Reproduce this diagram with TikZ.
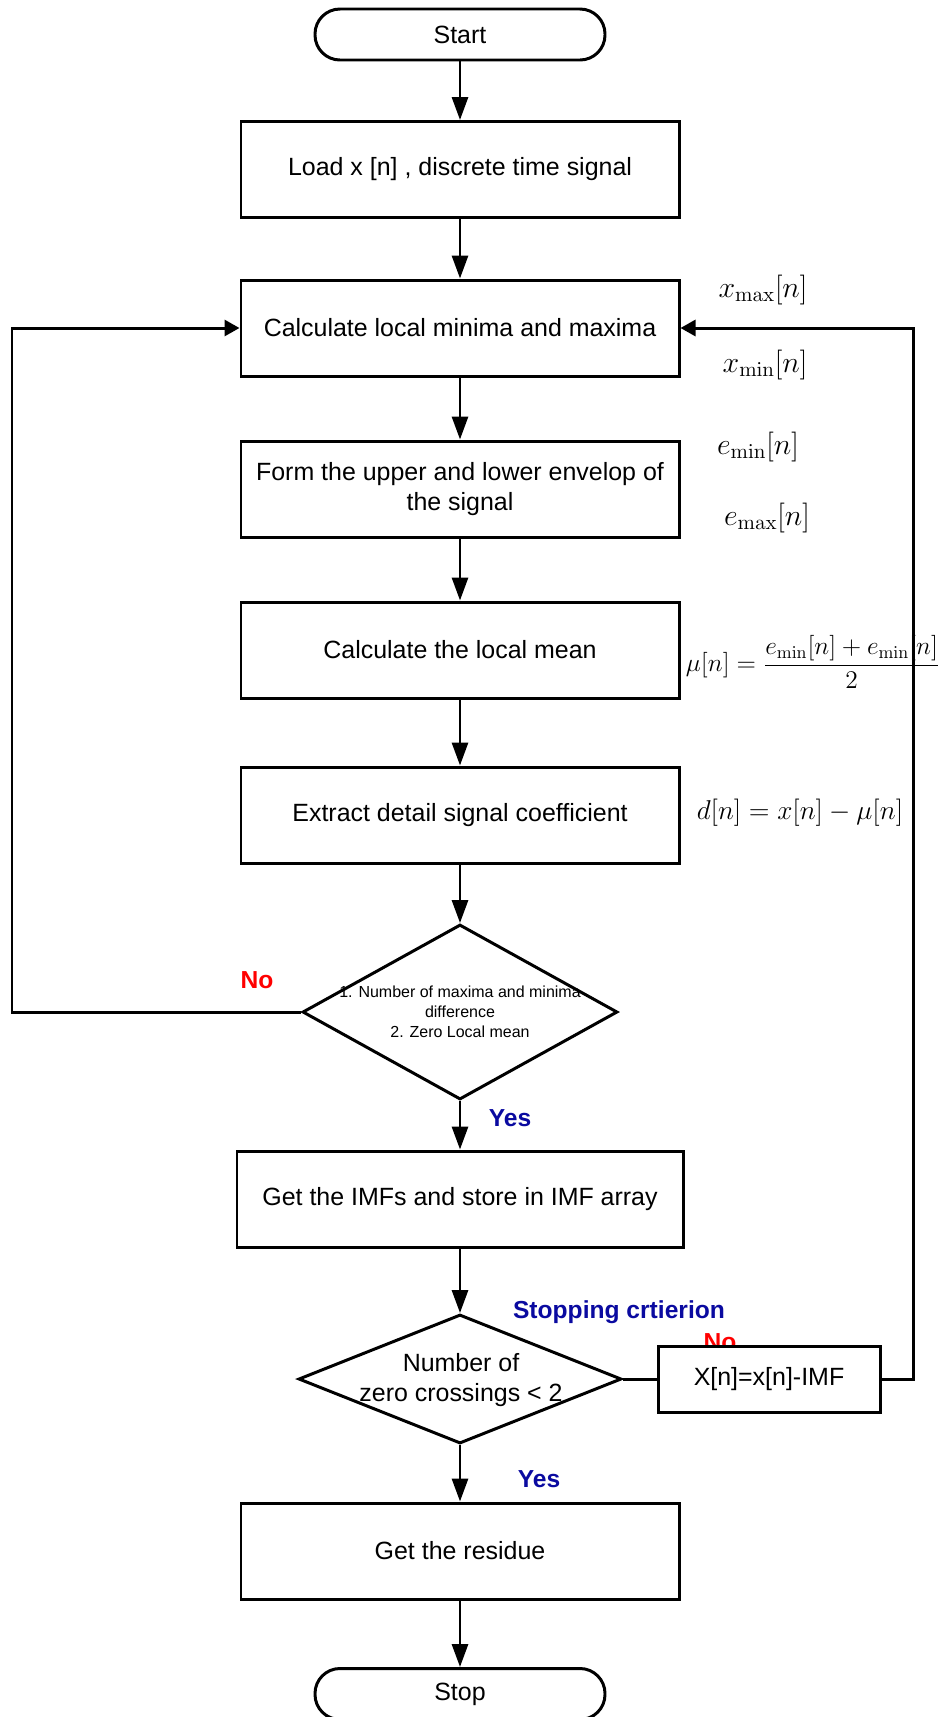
\RequirePackage{fix-cm}
\documentclass[tikz,border=0pt]{standalone}
\usepackage[no-math]{fontspec}
\setmainfont{Liberation Sans}
\usetikzlibrary{shapes.geometric,arrows.meta}

\definecolor{yesblue}{RGB}{10,10,160}

\tikzset{
    terminal/.style={draw, line width=1.7pt, rounded corners=0.5cm, minimum width=5.8cm, minimum height=1.02cm, font=\fontsize{14.2}{17}\selectfont},
    process/.style={draw, fill=white, line width=1.7pt, minimum width=8.76cm, minimum height=1.92cm, align=center, font=\fontsize{14.2}{17}\selectfont},
    decision/.style={draw, diamond, line width=1.7pt, inner sep=0pt},
    flowline/.style={line width=1.7pt, -{Triangle[length=0.46cm,width=0.32cm]}},
    backline/.style={line width=1.7pt, -{Triangle[length=0.3cm,width=0.32cm]}},
    yeslbl/.style={font=\fontsize{14}{17}\selectfont\bfseries, text=yesblue},
    nolbl/.style={font=\fontsize{14}{17}\selectfont\bfseries, text=red},
    mathlbl/.style={font=\fontsize{17}{20}\selectfont},
}

\begin{document}
\begin{tikzpicture}
    \useasboundingbox (0,0) rectangle (18.82,-34.34);

    %main column
    \node[terminal] (start) at (9.2,-0.69) {Start};
    \node[process] (load) at (9.2,-3.39) {Load x [n] , discrete time signal};
    \node[process] (calc) at (9.2,-6.56) {Calculate local minima and maxima};
    \node[process] (form) at (9.2,-9.78) {Form the upper and lower envelop of\\the signal};
    \node[process] (mean) at (9.2,-13.0) {Calculate the local mean};
    \node[process] (extract) at (9.2,-16.3) {Extract detail signal coefficient};

    %first check
    \node[decision, minimum width=6.3cm, minimum height=3.5cm] (check1) at (9.2,-20.24) {};
    \node[align=center, font=\fontsize{9.1}{11.5}\selectfont] (check1txt) at (check1) {1. Number of maxima and minima\\difference\\2. Zero Local mean};
    \node[nolbl] (no1) at (5.14,-19.6) {No};
    \node[yeslbl] (yes1) at (10.2,-22.36) {Yes};

    \node[process, minimum width=8.92cm] (imf) at (9.2,-23.98) {Get the IMFs and store in IMF array};

    %stopping check
    \node[decision, minimum width=6.46cm, minimum height=2.58cm] (check2) at (9.2,-27.58) {};
    \node[align=center, font=\fontsize{14.2}{17}\selectfont] (check2txt) at (9.22,-27.6) {Number of\\zero crossings < 2};
    \node[yeslbl] (crit) at (12.38,-26.24) {Stopping crtierion};
    \node[nolbl] (no2) at (14.4,-26.84) {No};
    \node[process, minimum width=4.44cm, minimum height=1.32cm] (upd) at (15.38,-27.58) {X[n]=x[n]-IMF};
    \node[yeslbl] (yes2) at (10.78,-29.58) {Yes};

    \node[process] (residue) at (9.2,-31.02) {Get the residue};
    \node[terminal] (stop) at (9.2,-33.88) {Stop};

    %flow
    \draw[flowline] (start.south) -- (load.north);
    \draw[flowline] (load.south) -- (calc.north);
    \draw[flowline] (calc.south) -- (form.north);
    \draw[flowline] (form.south) -- (mean.north);
    \draw[flowline] (mean.south) -- (extract.north);
    \draw[flowline] (extract.south) -- (check1.north);
    \draw[flowline] (check1.south) -- (imf.north);
    \draw[flowline] (imf.south) -- (check2.north);
    \draw[flowline] (check2.south) -- (residue.north);
    \draw[flowline] (residue.south) -- (stop.north);

    %loops back to the extrema step
    \coordinate (lcorner) at (0.24,-20.24);
    \coordinate (rcorner) at (18.26,-27.58);
    \draw[backline] (check1.west) -- (lcorner) |- (calc.west);
    \draw[line width=1.7pt] (check2.east) -- (upd.west);
    \draw[backline] (upd.east) -- (rcorner) |- (calc.east);

    %formulas on the right
    \node[mathlbl] (xmax) at (15.26,-5.8) {$x_{\max}[n]$};
    \node[mathlbl] (xmin) at (15.3,-7.3) {$x_{\min}[n]$};
    \node[mathlbl] (emin) at (15.16,-8.94) {$e_{\min}[n]$};
    \node[mathlbl] (emax) at (15.34,-10.36) {$e_{\max}[n]$};
    \node[font=\fontsize{14.5}{17}\selectfont] (mu) at (16.26,-13.24) {$\displaystyle\mu[n]=\frac{e_{\min}[n]+e_{\min}[n]}{2}$};
    \node[font=\fontsize{15.5}{18}\selectfont] (det) at (16.0,-16.26) {$d[n]=x[n]-\mu[n]$};
\end{tikzpicture}
\end{document}
